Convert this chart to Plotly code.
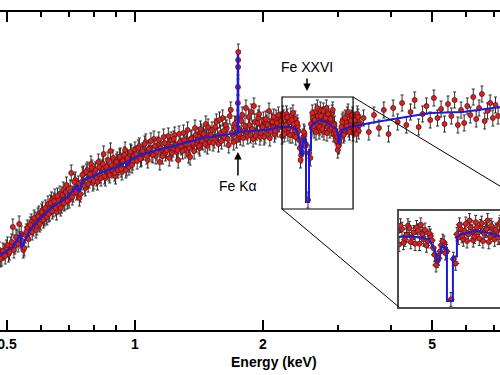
import numpy as np
import plotly.graph_objects as go

# ---------------- data ----------------
energy_kev = [
    0.480, 0.486, 0.492, 0.498, 0.504, 0.510, 0.516, 0.522, 0.528, 0.534,
    0.540, 0.546, 0.552, 0.558, 0.564, 0.570, 0.576, 0.582, 0.588, 0.594,
    0.600, 0.606, 0.612, 0.618, 0.624, 0.630, 0.636, 0.642, 0.648, 0.654,
    0.660, 0.666, 0.672, 0.678, 0.684, 0.690, 0.696,
    0.700, 0.708, 0.716, 0.724, 0.732, 0.740, 0.748, 0.756, 0.764, 0.772,
    0.780, 0.788, 0.796, 0.804, 0.812, 0.820, 0.828, 0.836, 0.844, 0.852,
    0.860, 0.868, 0.876, 0.884, 0.892, 0.900, 0.908, 0.916, 0.924, 0.932,
    0.940, 0.948, 0.956, 0.964, 0.972, 0.980, 0.988, 0.996,
    1.000, 1.012, 1.024, 1.036, 1.048, 1.060, 1.072, 1.084, 1.096, 1.108,
    1.120, 1.132, 1.144, 1.156, 1.168, 1.180, 1.192, 1.204, 1.216, 1.228,
    1.240, 1.252, 1.264, 1.276, 1.288, 1.300, 1.312, 1.324, 1.336, 1.348,
    1.360, 1.372, 1.384, 1.396, 1.408, 1.420, 1.432, 1.444, 1.456, 1.468,
    1.480, 1.492,
    1.500, 1.518, 1.536, 1.554, 1.572, 1.590, 1.608, 1.626, 1.644, 1.662,
    1.680, 1.698, 1.716, 1.734, 1.745, 1.746, 1.747, 1.748, 1.749, 1.750,
    1.752, 1.770, 1.788, 1.806, 1.824, 1.842, 1.860, 1.878, 1.896, 1.914,
    1.932, 1.950, 1.968, 1.986, 2.004, 2.022, 2.040, 2.058, 2.076, 2.094,
    2.112, 2.130, 2.148, 2.166, 2.184,
    2.200, 2.218, 2.236, 2.254, 2.272, 2.290, 2.308, 2.326, 2.344, 2.362,
    2.380, 2.398, 2.416, 2.434, 2.452, 2.470, 2.488, 2.506, 2.524, 2.553,
    2.586, 2.604, 2.622, 2.640, 2.658, 2.676, 2.694, 2.712, 2.730, 2.748,
    2.766, 2.784, 2.802, 2.820, 2.838, 2.856, 2.874, 2.892, 2.910, 2.928,
    2.946, 2.964, 2.982, 3.000, 3.018, 3.036, 3.060, 3.085, 3.110, 3.135,
    3.160, 3.185, 3.210, 3.235, 3.260, 3.285, 3.310, 3.335, 3.360, 3.385,
    3.45, 3.55, 3.65, 3.75, 3.85, 3.95, 4.05, 4.15, 4.25, 4.35,
    4.45, 4.55, 4.65, 4.75, 4.85, 4.95, 5.05, 5.15, 5.25, 5.35,
    5.45, 5.55, 5.65, 5.75, 5.85, 5.95, 6.05, 6.15, 6.25, 6.35,
    6.45, 6.55, 6.65, 6.75, 6.85, 6.95, 7.05, 7.15,
]

flux = [
    0.80, 0.72, 0.78, 0.82, 0.76, 0.85, 1.03, 0.84, 0.92, 1.06,
    0.96, 0.80, 0.95, 1.02, 0.97, 1.08, 1.02, 1.10, 1.03, 1.16,
    1.08, 1.20, 1.12, 1.14, 1.26, 1.17, 1.30, 1.21, 1.33, 1.18,
    1.30, 1.36, 1.25, 1.40, 1.28, 1.45, 1.32,
    1.30, 1.57, 1.36, 1.50, 1.41, 1.32, 1.48, 1.56, 1.42, 1.60,
    1.50, 1.66, 1.47, 1.58, 1.52, 1.68, 1.55, 1.62, 1.76, 1.52,
    1.64, 1.57, 1.79, 1.60, 1.66, 1.54, 1.70, 1.63, 1.74, 1.58,
    1.71, 1.80, 1.62, 1.70, 1.66, 1.77, 1.68, 1.75,
    1.80, 1.69, 1.84, 1.72, 1.78, 1.88, 1.70, 1.82, 1.76, 1.91,
    1.74, 1.85, 1.68, 1.80, 1.93, 1.77, 1.86, 1.72, 1.90, 1.81,
    1.95, 1.78, 1.70, 1.88, 1.83, 1.97, 1.80, 1.89, 1.75, 1.73,
    1.92, 1.85, 2.02, 1.86, 1.94, 1.82, 1.98, 1.88, 1.93, 2.06,
    1.84, 1.95,
    1.88, 2.00, 1.90, 2.08, 1.86, 1.97, 2.12, 1.92, 2.02, 1.85,
    2.20, 1.95, 2.06, 1.90, 2.12, 2.27, 2.43, 2.63, 2.70, 2.78,
    2.01, 1.93, 2.15, 1.99, 2.22, 1.94, 2.05, 2.18, 1.91, 2.08,
    1.98, 2.12, 1.93, 2.04, 2.10, 1.95, 2.07, 2.00, 1.92, 2.09,
    2.02, 1.96, 2.12, 2.01, 2.06,
    2.10, 1.94, 2.12, 2.00, 2.16, 1.97, 2.08, 2.14, 1.95, 2.06,
    2.11, 1.98, 2.04, 1.90, 1.70, 1.78, 1.93, 1.96, 1.86, 1.30,
    1.72, 2.02, 2.12, 2.00, 2.18, 2.06, 2.14, 1.99, 2.20, 2.08,
    2.15, 1.98, 2.10, 2.22, 2.03, 2.13, 2.00, 2.09, 2.17, 1.96,
    2.06, 1.94, 1.89, 1.80, 1.85, 1.92, 2.03, 2.10, 1.97, 2.08,
    2.15, 2.01, 2.06, 2.12, 1.97, 2.09, 2.04, 2.16, 1.99, 2.07,
    2.12, 1.98, 2.15, 2.02, 2.20, 1.96, 2.22, 2.08, 2.27, 2.05,
    2.18, 2.30, 2.03, 2.16, 2.24, 2.10, 2.32, 2.12, 2.21, 2.06,
    2.26, 2.14, 2.30, 2.05, 2.20, 2.07, 2.24, 2.15, 2.33, 2.11,
    2.22, 2.36, 2.09, 2.19, 2.27, 2.12, 2.25, 2.14,
]

# second (interleaved) set of spectral bins
energy_kev_2 = [
    0.483, 0.489, 0.495, 0.501, 0.507, 0.513, 0.519, 0.525, 0.531, 0.537,
    0.543, 0.549, 0.555, 0.561, 0.567, 0.573, 0.579, 0.585, 0.591, 0.597,
    0.603, 0.609, 0.615, 0.621, 0.627, 0.633, 0.639, 0.645, 0.651, 0.657,
    0.663, 0.669, 0.675, 0.681, 0.687, 0.693,
    0.704, 0.712, 0.720, 0.728, 0.736, 0.744, 0.752, 0.760, 0.768, 0.776,
    0.784, 0.792, 0.800, 0.808, 0.816, 0.824, 0.832, 0.840, 0.848, 0.856,
    0.864, 0.872, 0.880, 0.888, 0.896, 0.904, 0.912, 0.920, 0.928, 0.936,
    0.944, 0.952, 0.960, 0.968, 0.976, 0.984, 0.992,
    1.006, 1.018, 1.030, 1.042, 1.054, 1.066, 1.078, 1.090, 1.102, 1.114,
    1.126, 1.138, 1.150, 1.162, 1.174, 1.186, 1.198, 1.210, 1.222, 1.234,
    1.246, 1.258, 1.270, 1.282, 1.294, 1.306, 1.318, 1.330, 1.342, 1.354,
    1.366, 1.378, 1.390, 1.402, 1.414, 1.426, 1.438, 1.450, 1.462, 1.474,
    1.486,
    1.509, 1.527, 1.545, 1.563, 1.581, 1.599, 1.617, 1.635, 1.653, 1.671,
    1.689, 1.707, 1.725, 1.761, 1.779, 1.797, 1.815, 1.833, 1.851, 1.869,
    1.887, 1.905, 1.923, 1.941, 1.959, 1.977, 1.995, 2.013, 2.031, 2.049,
    2.067, 2.085, 2.103, 2.121, 2.139, 2.157, 2.175,
    2.209, 2.227, 2.245, 2.263, 2.281, 2.299, 2.317, 2.335, 2.353, 2.371,
    2.389, 2.407, 2.425, 2.443, 2.461, 2.479, 2.497, 2.515,
    2.570, 2.595,
    2.613, 2.631, 2.649, 2.667, 2.685, 2.703, 2.721, 2.739, 2.757, 2.775,
    2.793, 2.811, 2.829, 2.847, 2.865, 2.883, 2.901, 2.919, 2.937, 2.955,
    2.973, 2.991, 3.009, 3.027,
    3.048, 3.072, 3.097, 3.122, 3.147, 3.172, 3.197, 3.222, 3.247, 3.272,
    3.297, 3.322, 3.347, 3.372,
]
flux_2 = [
    0.71, 0.79, 0.74, 0.85, 0.78, 0.88, 0.80, 0.93, 0.86, 0.90,
    0.89, 0.82, 0.98, 0.91, 1.05, 0.98, 1.12, 1.00, 1.14, 1.06,
    1.18, 1.10, 1.22, 1.13, 1.16, 1.27, 1.19, 1.29, 1.22, 1.34,
    1.24, 1.22, 1.35, 1.27, 1.38, 1.29,
    1.42, 1.33, 1.48, 1.38, 1.46, 1.36, 1.55, 1.44, 1.58, 1.46,
    1.56, 1.62, 1.49, 1.60, 1.48, 1.63, 1.52, 1.66, 1.54, 1.63,
    1.70, 1.55, 1.65, 1.72, 1.57, 1.68, 1.60, 1.73, 1.61, 1.69,
    1.75, 1.60, 1.72, 1.63, 1.78, 1.65, 1.74,
    1.76, 1.82, 1.71, 1.79, 1.86, 1.74, 1.81, 1.89, 1.75, 1.84,
    1.78, 1.90, 1.82, 1.74, 1.87, 1.80, 1.94, 1.83, 1.77, 1.91,
    1.85, 1.80, 1.96, 1.84, 1.79, 1.90, 1.86, 2.00, 1.82, 1.91,
    1.87, 1.79, 1.95, 1.90, 1.84, 2.01, 1.89, 1.96, 1.86, 1.92,
    2.03,
    1.95, 1.87, 2.03, 1.94, 2.10, 1.89, 1.99, 2.05, 1.91, 2.14,
    1.97, 1.88, 2.02, 1.96, 2.09, 1.92, 2.04, 1.98, 2.13, 1.95,
    2.01, 2.24, 1.94, 2.07, 2.16, 1.97, 2.03, 1.93, 2.11, 2.05,
    2.19, 1.98, 2.08, 2.13, 1.99, 2.07, 2.15,
    2.09, 2.16, 1.96, 2.05, 2.13, 2.02, 1.95, 2.10, 2.17, 2.00,
    1.93, 2.07, 1.99, 1.82, 1.75, 1.86, 1.98, 1.84,
    1.77, 2.06,
    2.17, 2.04, 2.10, 1.98, 2.22, 2.09, 2.03, 2.14, 2.01, 2.19,
    2.07, 2.12, 1.97, 2.16, 2.06, 2.11, 2.02, 2.20, 2.05, 2.00,
    1.96, 1.93, 1.84, 1.88,
    1.97, 2.08, 1.95, 2.12, 2.04, 2.18, 1.98, 2.09, 2.15, 2.01,
    2.10, 1.96, 2.13, 2.05,
]
flux_error = 0.08

model_e = [
    0.4813, 0.5163, 0.5278, 0.5391, 0.5391, 0.5435, 0.5509, 0.5661, 0.5977,
    0.6483, 0.6918, 0.7224, 0.7342, 0.7342, 0.7422, 0.7543, 0.7834, 0.8272,
    0.9070, 0.9524, 0.9524, 0.9627, 0.9732, 1.0275, 1.1266, 1.2088, 1.4454,
    1.7378, 1.7430, 1.7450, 1.7490, 1.7510, 2.0447, 2.1937, 2.3155, 2.4053,
    2.4445, 2.4600, 2.4750, 2.4900, 2.5100, 2.5256, 2.5256, 2.5668, 2.5668,
    2.5948, 2.5948, 2.6090, 2.7248, 2.8454, 2.9878, 3.0200, 3.0450, 3.0695,
    3.2057, 3.5725, 4.2021, 4.9431, 5.9130, 7.2245,
]
model_v = [
    0.75, 0.83, 0.90, 0.97, 0.83, 0.84, 0.90, 1.00, 1.12,
    1.25, 1.33, 1.42, 1.45, 1.38, 1.40, 1.50, 1.52, 1.57,
    1.63, 1.68, 1.64, 1.65, 1.70, 1.75, 1.80, 1.83, 1.92,
    1.97, 1.97, 2.75, 2.75, 1.98, 2.00, 2.03, 2.03, 2.00,
    1.87, 1.74, 1.76, 1.93, 1.90, 1.90, 1.28, 1.28, 1.80,
    1.80, 2.02, 2.05, 2.10, 2.07, 2.00, 1.86, 1.92, 2.00,
    2.03, 2.07, 2.12, 2.17, 2.18, 2.23,
]

major_ticks = [0.5, 1, 2, 5]
major_labels = ["0.5", "1", "2", "5"]
minor_ticks = [0.6, 0.7, 0.8, 0.9, 3, 4, 6, 7]

line_labels = ["Fe XXVI", "Fe K\u03b1"]
line_energies = [2.539, 1.747]

# ---------------- layout geometry ----------------
e_range = [0.4813, 7.2245]
v_range = [0.0, 3.18]
zoom_e = [2.218, 3.259]
zoom_v = [1.21, 2.33]
inset_left, inset_bottom, inset_top = 0.798, 0.072, 0.374

lx0, lx1 = np.log10(e_range[0]), np.log10(e_range[1])


def paper_x(e):
    return (np.log10(e) - lx0) / (lx1 - lx0)


def paper_y(v):
    return (v - v_range[0]) / (v_range[1] - v_range[0])


rect_w = paper_x(zoom_e[1]) - paper_x(zoom_e[0])
inset_w = 2 * rect_w
zl0, zl1 = np.log10(zoom_e[0]), np.log10(zoom_e[1])
inset_xr = [zl0, zl0 + (1 - inset_left) / inset_w * (zl1 - zl0)]

all_e = energy_kev + energy_kev_2
all_f = flux + flux_2

fig = go.Figure()

marker = dict(size=5, color="#d22626", line=dict(width=0.8, color="#6e0c0c"))
err = dict(type="constant", value=flux_error, color="#2e2e2e", thickness=1, width=1.5)

for xa, ya, ex in (("x", "y", None), ("x2", "y2", 1.0)):
    fig.add_trace(go.Scatter(
        x=all_e, y=all_f, mode="markers", marker=marker,
        error_y=err,
        error_x=(dict(type="percent", value=ex, color="#2e2e2e", thickness=1, width=0)
                 if ex else None),
        xaxis=xa, yaxis=ya, showlegend=False, hoverinfo="skip"))
    fig.add_trace(go.Scatter(
        x=model_e, y=model_v, mode="lines",
        line=dict(color="#1c1cd8", width=2),
        xaxis=xa, yaxis=ya, showlegend=False, hoverinfo="skip"))

tickfont = dict(family="Liberation Sans", size=14, color="black", weight=700)

fig.update_layout(
    width=500, height=375,
    margin=dict(l=0, r=0, t=12, b=45, autoexpand=False),
    paper_bgcolor="white", plot_bgcolor="white",
    xaxis=dict(
        type="log", range=[lx0, lx1], domain=[0, 1], automargin=False,
        showline=True, linecolor="black", linewidth=2, mirror="ticks",
        ticks="inside", ticklen=10, tickwidth=2, tickcolor="black",
        tickmode="array", tickvals=major_ticks, ticktext=major_labels,
        ticklabeloverflow="allow",
        tickfont=tickfont, showgrid=False, zeroline=False,
        minor=dict(tickmode="array", tickvals=minor_ticks, ticks="inside",
                   ticklen=5, tickwidth=2, tickcolor="black", showgrid=False),
    ),
    yaxis=dict(range=v_range, visible=False, domain=[0, 1], automargin=False),
    xaxis2=dict(
        type="log", range=inset_xr, domain=[inset_left, 1], anchor="y2",
        automargin=False,
        showline=True, linecolor="#4d4d4d", linewidth=1.5, mirror=True,
        ticks="", showticklabels=False, showgrid=False, zeroline=False,
    ),
    yaxis2=dict(
        range=zoom_v, domain=[inset_bottom, inset_top], anchor="x2",
        automargin=False,
        showline=True, linecolor="#4d4d4d", linewidth=1.5, mirror=False,
        ticks="", showticklabels=False, showgrid=False, zeroline=False,
    ),
)

shapes = [
    dict(type="rect", xref="x2 domain", yref="y2 domain", x0=0, x1=1.2, y0=0, y1=1,
         fillcolor="#f2eeea", line=dict(width=0), layer="below"),
    dict(type="rect", xref="paper", yref="paper",
         x0=paper_x(zoom_e[0]), x1=paper_x(zoom_e[1]),
         y0=paper_y(zoom_v[0]), y1=paper_y(zoom_v[1]),
         line=dict(color="black", width=1.2)),
    dict(type="line", xref="paper", yref="paper",
         x0=paper_x(zoom_e[1]), y0=paper_y(zoom_v[1]),
         x1=inset_left + inset_w, y1=inset_top,
         line=dict(color="black", width=1)),
    dict(type="line", xref="paper", yref="paper",
         x0=paper_x(zoom_e[0]), y0=paper_y(zoom_v[0]),
         x1=inset_left, y1=inset_bottom,
         line=dict(color="black", width=1)),
]
fig.update_layout(shapes=shapes)

labfont = dict(family="Liberation Sans", size=14, color="black")
annotations = [
    # Fe XXVI
    dict(x=np.log10(line_energies[0]), y=paper_y(2.39), xref="x", yref="paper",
         text="", showarrow=True, arrowhead=2, arrowsize=1, arrowwidth=1.5,
         arrowcolor="black", ax=0, ay=-14),
    dict(x=np.log10(line_energies[0]), y=paper_y(2.63), xref="x", yref="paper",
         text=line_labels[0], showarrow=False, font=labfont,
         xanchor="center", yanchor="middle"),
    # Fe K alpha
    dict(x=np.log10(line_energies[1]), y=paper_y(1.78), xref="x", yref="paper",
         text="", showarrow=True, arrowhead=2, arrowsize=1, arrowwidth=1.5,
         arrowcolor="black", ax=0, ay=25),
    dict(x=np.log10(line_energies[1]), y=paper_y(1.44), xref="x", yref="paper",
         text=line_labels[1], showarrow=False, font=labfont,
         xanchor="center", yanchor="middle"),
    # axis title
    dict(x=274 / 500, y=-0.10, xref="paper", yref="paper",
         text="Energy (keV)", showarrow=False,
         font=dict(family="Liberation Sans", size=14, color="black", weight=700),
         xanchor="center", yanchor="middle"),
]
fig.update_layout(annotations=annotations)

fig.write_html("out.html",
               config={"displayModeBar": False},
               post_script="document.body.style.margin='0px';"
                           "document.body.style.overflow='hidden';")
